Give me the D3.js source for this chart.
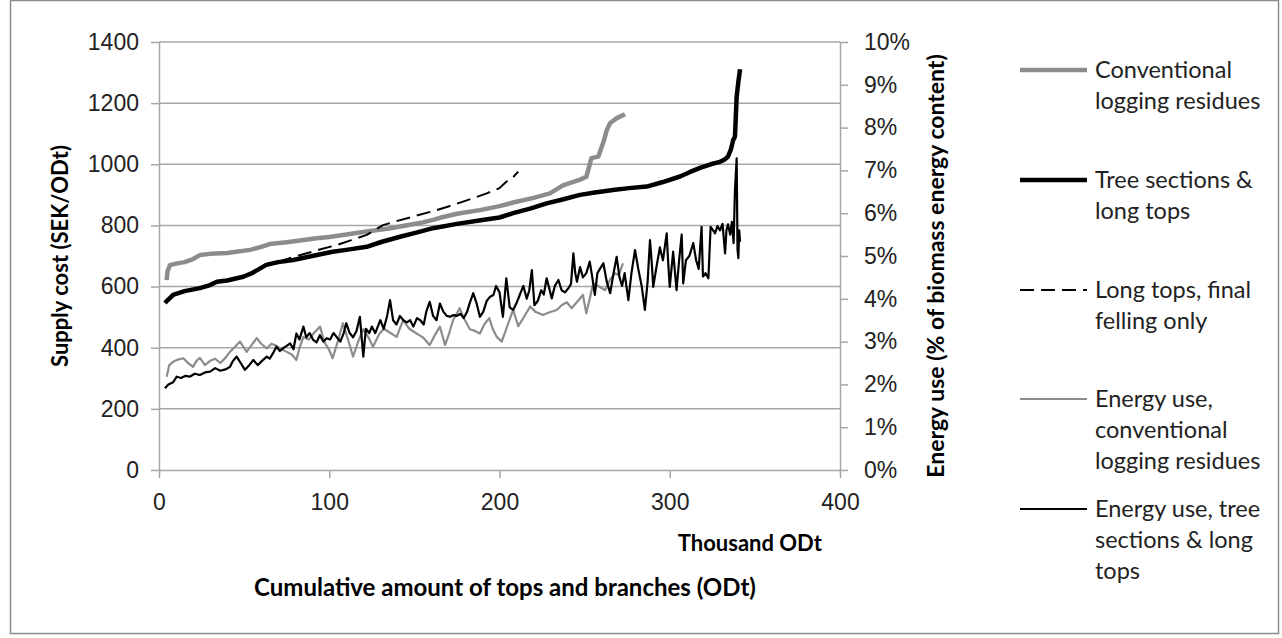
<!DOCTYPE html>
<html>
<head>
<meta charset="utf-8">
<script src="https://cdn.jsdelivr.net/npm/d3@7"></script>
<style>
  body { margin: 0; background: #fff; }
  svg { display: block; font-family: Lato, "Noto Sans", sans-serif; }
</style>
</head>
<body>
<svg id="chart" width="1282" height="638"></svg>
<script>
// supply cost (SEK/ODt) vs cumulative amount (thousand ODt)
var conventional = [[4.5,621],[5,650],[6.4,670],[10,675],[15,680],[20,690],[24,703],[30,707],[40,710],[53.5,720],[60,730],[65,739],[75,745],[85,752],[92.6,758],[100,762],[110,770],[122,780],[135,790],[145,800],[155,810],[161,818],[165,825],[175,838],[188.5,850],[200,863],[208,875],[220,890],[229.6,905],[237,930],[242,940],[247,949],[251,959],[254,1020],[258,1025],[261.4,1079],[263,1112],[265,1135],[268.9,1151],[273.7,1164]];
var treeSections = [[3.5,546],[5,555],[8.3,573],[15,585],[24,595],[30,605],[34,616],[40,620],[49.5,632],[55,645],[63,671],[70,680],[78.8,687],[90,700],[102,714],[110,720],[122,730],[130,745],[141.6,763],[150,775],[161,791],[175,805],[190,818],[200,826],[208,840],[218,855],[227.7,872],[237,885],[247.3,900],[256,908],[266.7,916],[276,922],[286.5,927],[296,942],[306,960],[312,975],[317.8,988],[324,1000],[329.5,1008],[332,1015],[334.2,1025],[336,1050],[337.3,1080],[338.3,1090],[339.3,1221],[340.3,1270],[341.3,1311]];
var longTops = [[70,678],[74,688],[78,695],[86.8,709],[95,722],[104.4,736],[113,752],[122,769],[131.6,801],[140,815],[150,830],[163,850],[170,862],[178.6,878],[185,890],[192.5,905],[200,922],[204,943],[208,958],[211,976]];

// energy use (% of biomass energy content), right axis
var energyConventional = [[4.5,2.18],[6,2.45],[8.4,2.53],[11,2.58],[14.3,2.61],[17,2.5],[20,2.41],[22,2.55],[24,2.62],[27,2.45],[30,2.55],[33,2.6],[36,2.5],[39,2.62],[41.7,2.76],[44,2.85],[47.6,3.0],[50,2.85],[51.5,2.76],[54,2.9],[57.4,3.08],[60,2.95],[63.3,2.84],[66,2.95],[69,2.9],[72,2.82],[75,2.76],[78,2.7],[80.7,2.57],[82.5,2.85],[84.8,3.11],[88,3.05],[91,3.2],[94.6,3.35],[97,3.0],[100,2.8],[102,2.61],[105,3.0],[108,3.43],[111,3.05],[114,2.65],[117,3.0],[120,3.29],[123,3.1],[125.7,2.88],[129,3.15],[132,3.3],[136,3.2],[139.6,3.11],[143.4,3.5],[147,3.3],[151.3,3.19],[155,3.1],[159,2.92],[162,3.15],[165,3.35],[168,2.92],[170.5,3.2],[172.7,3.5],[176.6,3.78],[179,3.55],[182.6,3.29],[185.5,3.25],[188.5,3.19],[191,3.4],[194,3.55],[196,3.3],[198.4,3.11],[201.3,3.0],[204,3.3],[208,3.74],[211,3.36],[214,3.55],[218,3.82],[221,3.7],[225.6,3.62],[229,3.68],[233.6,3.74],[236.5,3.85],[239.5,3.92],[242.4,3.78],[246,3.95],[249,4.09],[251,3.66],[253,4.0],[255,4.36],[258,4.3],[262,4.2],[265,4.45],[268,4.6],[270,4.55],[272.5,4.83]];
var energyTree = [[3.5,1.91],[5.5,2.0],[8.3,2.05],[10.4,2.18],[13,2.15],[15.5,2.2],[18,2.18],[21,2.25],[24,2.22],[27,2.28],[30,2.3],[33,2.38],[36,2.32],[39,2.35],[41.7,2.41],[43.5,2.55],[45.6,2.65],[48,2.5],[50.5,2.34],[53,2.45],[55.4,2.57],[58,2.45],[60.5,2.55],[63.3,2.65],[65,2.6],[67,2.73],[69,2.88],[71,2.78],[73,2.85],[75,2.9],[77,2.96],[79,2.82],[80.7,3.19],[82.5,3.05],[84.8,3.35],[86.5,3.1],[88.5,3.2],[90.6,3.04],[92.5,2.98],[94.5,3.15],[96.5,3.0],[98.5,3.08],[100.5,3.05],[102.5,3.2],[104.5,3.1],[106.5,3.0],[108.5,3.2],[110,3.43],[112,3.2],[114,3.1],[116,3.25],[118,3.58],[120,2.65],[121.5,3.3],[123.5,3.2],[125,3.35],[127,3.2],[130,3.5],[132,3.3],[134,3.6],[135.7,3.97],[137.5,3.5],[139.5,3.4],[141.5,3.6],[143.5,3.5],[145.5,3.45],[147.5,3.5],[149.4,3.35],[151.5,3.55],[153.5,3.5],[155.5,3.4],[157,3.7],[159,3.93],[161,3.6],[163,3.5],[165,3.89],[167,3.7],[169,3.6],[171,3.58],[173,3.62],[175,3.6],[177,3.65],[179,3.55],[181,3.7],[182.5,3.9],[184.6,4.13],[186.5,3.9],[188.5,3.58],[190.5,3.7],[192.5,3.95],[194.5,4.05],[196.4,4.09],[198,4.3],[200,4.15],[202,3.58],[204,4.48],[206,3.8],[208,3.74],[210,3.9],[212,4.1],[214,4.3],[216,4.0],[217.5,4.2],[219,4.67],[220.5,3.85],[222.5,3.95],[224.5,4.2],[226,4.1],[227.7,4.48],[229.5,4.2],[230.7,4.01],[232.5,4.3],[234.6,4.44],[236.5,4.2],[238.5,4.15],[240.5,4.25],[242,4.35],[243.4,5.06],[244.5,4.6],[245.5,4.4],[247.3,4.74],[249,4.5],[251,4.6],[253,4.87],[254.5,4.5],[256,4.09],[257.5,4.6],[259,4.7],[261,4.83],[263,4.4],[265,4.13],[267,4.6],[268.8,4.98],[270.5,4.5],[272,4.3],[273.5,4.6],[275.7,3.97],[277.5,4.6],[279.6,5.14],[281.5,4.7],[283.5,4.3],[285.4,3.74],[287,4.4],[288.4,5.37],[289.5,4.8],[290.3,4.28],[292,4.7],[294.2,5.2],[296,4.9],[298.2,5.53],[299,4.9],[300,4.28],[302,5.1],[304,4.2],[305.5,4.9],[307,5.5],[307.9,4.36],[309.5,4.9],[311.5,5.0],[313.8,5.3],[315.5,4.9],[317,4.7],[318.7,5.68],[319.5,4.52],[321,4.6],[322.7,4.48],[324,5.68],[325.5,5.6],[326.6,5.53],[328,5.7],[329.5,5.6],[331,5.75],[332.5,5.06],[333.3,5.6],[334.2,5.74],[335.5,5.5],[336.5,5.8],[337.5,5.3],[338.3,6.54],[339.3,7.28],[339.8,5.15],[340.3,4.95],[340.8,5.6],[341.3,5.33]];

var xTicks = [0, 100, 200, 300, 400];
var yTicks = [0, 200, 400, 600, 800, 1000, 1200, 1400];
var y2Ticks = [0, 1, 2, 3, 4, 5, 6, 7, 8, 9, 10];

var legendNames = [
  ["Conventional", "logging residues"],
  ["Tree sections &", "long tops"],
  ["Long tops, final", "felling only"],
  ["Energy use,", "conventional", "logging residues"],
  ["Energy use, tree", "sections & long", "tops"]
];

(function(){
  var svg = d3.select("#chart");
  var left = 159, right = 840, top = 42, bottom = 470;
  var axisColor = "#a6a6a6";

  var x = d3.scaleLinear().domain([0, 400]).range([left, right]);
  var y = d3.scaleLinear().domain([0, 1400]).range([bottom, top]);
  var y2 = d3.scaleLinear().domain([0, 10]).range([bottom, top]);

  // outer frame
  svg.append("rect")
    .attr("x", 10.5).attr("y", 0.5)
    .attr("width", 1268).attr("height", 633)
    .attr("fill", "none").attr("stroke", "#8c8c8c").attr("stroke-width", 1.5);

  // gridlines
  svg.append("g").selectAll("line")
    .data(yTicks.slice(1))
    .enter().append("line")
    .attr("x1", left).attr("x2", right)
    .attr("y1", function(d){ return y(d); })
    .attr("y2", function(d){ return y(d); })
    .attr("stroke", axisColor).attr("stroke-width", 1.5);

  var styleAxis = function(g){
    g.select(".domain").attr("stroke", axisColor).attr("stroke-width", 1.5);
    g.selectAll(".tick line").attr("stroke", axisColor).attr("stroke-width", 1.5);
    g.selectAll(".tick text").attr("fill", "#222").style("font-size", "23px");
  };

  svg.append("g")
    .attr("transform", "translate(0," + bottom + ")")
    .call(d3.axisBottom(x).tickValues(xTicks).tickSize(8).tickSizeOuter(0).tickPadding(16)
      .tickFormat(d3.format("d")))
    .call(styleAxis);

  svg.append("g")
    .attr("transform", "translate(" + left + ",0)")
    .call(d3.axisLeft(y).tickValues(yTicks).tickSize(8).tickSizeOuter(0).tickPadding(12)
      .tickFormat(d3.format("d")))
    .call(styleAxis);

  svg.append("g")
    .attr("transform", "translate(" + right + ",0)")
    .call(d3.axisRight(y2).tickValues(y2Ticks).tickSize(8).tickSizeOuter(0).tickPadding(16)
      .tickFormat(function(d){ return d + "%"; }))
    .call(styleAxis);

  // axis titles
  svg.append("text")
    .attr("transform", "translate(68," + ((top + bottom) / 2) + ") rotate(-90)")
    .attr("text-anchor", "middle")
    .style("font-size", "22px").style("font-weight", "bold")
    .text("Supply cost (SEK/ODt)");

  svg.append("text")
    .attr("transform", "translate(944," + ((top + bottom) / 2 + 10) + ") rotate(-90)")
    .attr("text-anchor", "middle")
    .style("font-size", "23px").style("font-weight", "bold")
    .text("Energy use (% of biomass energy content)");

  svg.append("text")
    .attr("x", 822).attr("y", 551)
    .attr("text-anchor", "end")
    .style("font-size", "22px").style("font-weight", "bold")
    .text("Thousand ODt");

  svg.append("text")
    .attr("x", 505).attr("y", 596)
    .attr("text-anchor", "middle")
    .style("font-size", "24px").style("font-weight", "bold")
    .text("Cumulative amount of tops and branches (ODt)");

  // series
  var line = d3.line().x(function(d){ return x(d[0]); }).y(function(d){ return y(d[1]); });
  var line2 = d3.line().x(function(d){ return x(d[0]); }).y(function(d){ return y2(d[1]); });

  var series = [
    {data: energyConventional, gen: line2, color: "#8c8c8c", width: 2.2, dash: null},
    {data: energyTree, gen: line2, color: "#000", width: 2.2, dash: null},
    {data: conventional, gen: line, color: "#8c8c8c", width: 4.5, dash: null},
    {data: treeSections, gen: line, color: "#000", width: 4.5, dash: null},
    {data: longTops, gen: line, color: "#000", width: 2, dash: "14,7"}
  ];

  series.forEach(function(s){
    svg.append("path")
      .datum(s.data)
      .attr("d", s.gen)
      .attr("fill", "none")
      .attr("stroke", s.color)
      .attr("stroke-width", s.width)
      .attr("stroke-linejoin", "round")
      .attr("stroke-dasharray", s.dash);
  });

  // legend
  var legendStyles = [
    {color: "#8c8c8c", width: 4.5, dash: null, y: 70},
    {color: "#000", width: 4.5, dash: null, y: 180},
    {color: "#000", width: 2, dash: "14,7", y: 290},
    {color: "#8c8c8c", width: 2.2, dash: null, y: 399},
    {color: "#000", width: 2.2, dash: null, y: 509}
  ];

  var legend = svg.append("g");
  legendNames.forEach(function(lines, i){
    var st = legendStyles[i];
    legend.append("line")
      .attr("x1", 1020).attr("x2", 1087)
      .attr("y1", st.y).attr("y2", st.y)
      .attr("stroke", st.color).attr("stroke-width", st.width)
      .attr("stroke-dasharray", st.dash);
    var t = legend.append("text")
      .attr("x", 1095).attr("y", st.y + 8)
      .style("font-size", "23.5px").attr("fill", "#222");
    lines.forEach(function(l, j){
      t.append("tspan").attr("x", 1095).attr("dy", j === 0 ? 0 : 31).text(l);
    });
  });
})();
</script>
</body>
</html>
